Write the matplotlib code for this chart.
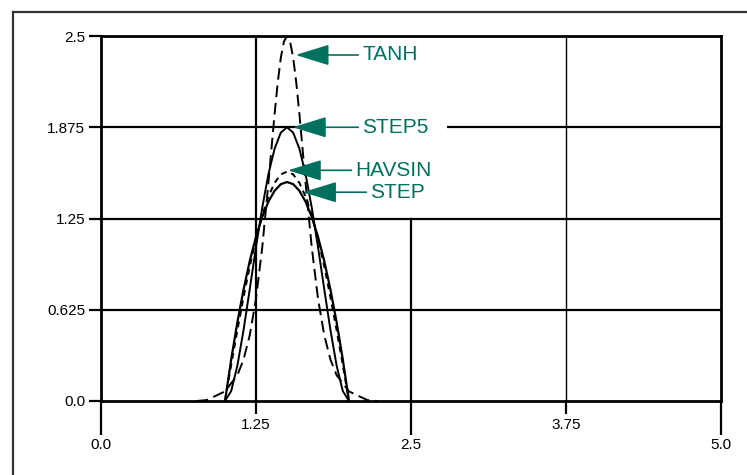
import matplotlib
matplotlib.use("Agg")
import matplotlib.pyplot as plt
from matplotlib.lines import Line2D
from matplotlib.patches import Rectangle

plt.rcParams['font.family'] = ['Liberation Sans', 'DejaVu Sans']

TEAL = "#00705f"

# curves (pulse between x = 1.0 and 2.0)
x_pulse = [1.0, 1.05, 1.1, 1.15, 1.2, 1.25, 1.3, 1.35, 1.4, 1.45, 1.5,
           1.55, 1.6, 1.65, 1.7, 1.75, 1.8, 1.85, 1.9, 1.95, 2.0]
step_y = [0.0, 0.285, 0.54, 0.765, 0.96, 1.125, 1.26, 1.365, 1.44, 1.485, 1.5,
          1.485, 1.44, 1.365, 1.26, 1.125, 0.96, 0.765, 0.54, 0.285, 0.0]
step5_y = [0.0, 0.068, 0.243, 0.488, 0.768, 1.055, 1.323, 1.553, 1.728, 1.838, 1.875,
           1.838, 1.728, 1.553, 1.323, 1.055, 0.768, 0.488, 0.243, 0.068, 0.0]
havsin_y = [0.0, 0.246, 0.485, 0.713, 0.923, 1.111, 1.271, 1.400, 1.494, 1.552, 1.571,
            1.552, 1.494, 1.400, 1.271, 1.111, 0.923, 0.713, 0.485, 0.246, 0.0]

tanh_x = [0.77, 0.85, 0.9, 1.0, 1.1, 1.15, 1.2, 1.25, 1.3, 1.35, 1.375, 1.4, 1.425,
          1.45, 1.475, 1.5, 1.525, 1.55, 1.575, 1.6, 1.625, 1.65, 1.7, 1.75,
          1.8, 1.85, 1.9, 2.0, 2.1, 2.15, 2.23]
tanh_y = [0.0, 0.006, 0.025, 0.066, 0.177, 0.285, 0.452, 0.701, 1.05, 1.492, 1.731,
          1.966, 2.179, 2.35, 2.461, 2.5, 2.461, 2.35, 2.179, 1.966, 1.731, 1.492,
          1.05, 0.701, 0.452, 0.285, 0.177, 0.066, 0.025, 0.006, 0.0]

# label text, arrow tip (on curve), text anchor
labels = ["TANH", "STEP5", "HAVSIN", "STEP"]
tips = [(1.57, 2.37), (1.548, 1.875), (1.508, 1.58), (1.63, 1.43)]
text_x = [2.105, 2.105, 2.05, 2.17]

fig = plt.figure(figsize=(7.47, 4.75), dpi=100)
ax = fig.add_axes([101 / 747, 1 - 401 / 475, 620 / 747, 365 / 475])
ax.set_xlim(0, 5)
ax.set_ylim(0, 2.5)

# outer frame of the picture
fig.add_artist(Line2D([13 / 747, 13 / 747], [-0.05, 1 - 12 / 475], color="#333333", lw=1.6))
fig.add_artist(Line2D([13 / 747, 1.05], [1 - 12 / 475, 1 - 12 / 475], color="#333333", lw=1.6))

# grid
for yv in [0.625, 1.25, 1.875]:
    ax.axhline(yv, color="black", lw=1.6, zorder=1)
ax.axvline(1.25, color="black", lw=1.6, zorder=1)
ax.axvline(3.75, color="black", lw=1.0, zorder=1)
ax.plot([2.5, 2.5], [0, 1.25], color="black", lw=1.6, zorder=1)

# white gap behind STEP5 label
ax.add_patch(Rectangle((1.62, 1.82), 1.17, 0.11, facecolor="white", edgecolor="none", zorder=1.5))

# curves
ax.plot(x_pulse, step_y, color="black", lw=1.6, zorder=3)
ax.plot(x_pulse, step5_y, color="black", lw=1.4, zorder=3)
ax.plot(x_pulse, havsin_y, color="black", lw=1.4, ls=(0, (3, 2.5)), zorder=3)
ax.plot(tanh_x, tanh_y, color="black", lw=1.4, ls=(0, (6, 3)), zorder=3)

# arrows + labels
for lab, (tx, ty), lx in zip(labels, tips, text_x):
    ax.annotate("", xy=(tx, ty), xytext=(lx - 0.03, ty),
                arrowprops=dict(arrowstyle="-|>,head_length=2.1,head_width=0.65",
                                color=TEAL, lw=1.2, mutation_scale=10,
                                shrinkA=0, shrinkB=0), zorder=4)
    ax.text(lx, ty, lab, color=TEAL, fontsize=15, va="center", ha="left", zorder=4)

# spines
for s in ax.spines.values():
    s.set_linewidth(2.0)

# ticks
ax.set_yticks([0.0, 0.625, 1.25, 1.875, 2.5])
ax.set_yticklabels(["0.0", "0.625", "1.25", "1.875", "2.5"])
ax.tick_params(axis="y", length=8.5, width=1.6, pad=3, labelsize=11)
ax.set_xticks([0.0, 2.5, 5.0])
ax.set_xticklabels(["0.0", "2.5", "5.0"])
ax.set_xticks([1.25, 3.75], minor=True)
ax.set_xticklabels(["1.25", "3.75"], minor=True)
ax.tick_params(axis="x", which="major", length=24.5, width=1.6, pad=2, labelsize=11)
ax.tick_params(axis="x", which="minor", length=9, width=1.6, pad=3, labelsize=11)

fig.savefig("out.png", dpi=100)
